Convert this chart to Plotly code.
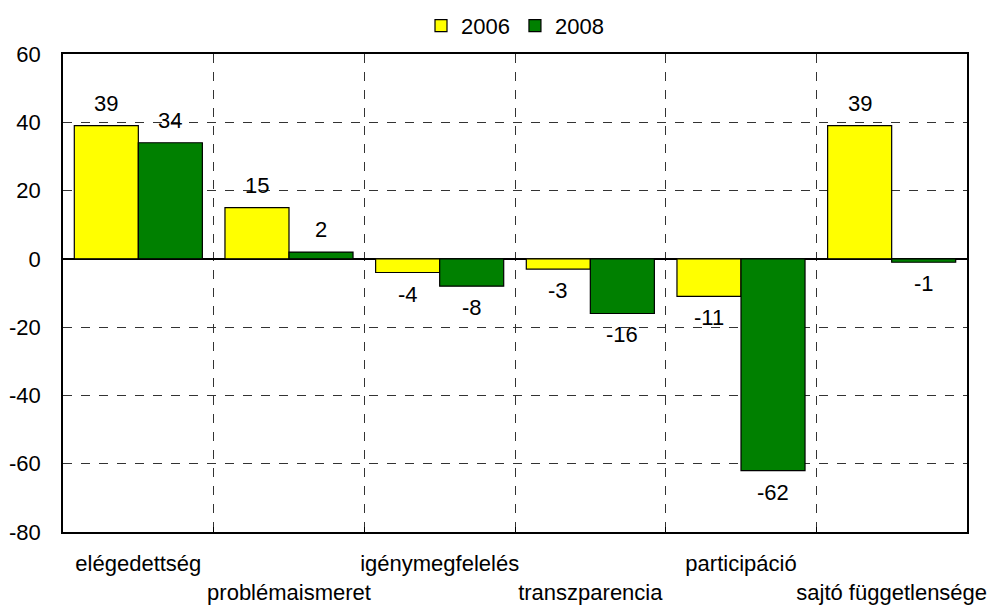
import plotly.graph_objects as go

categories = ["elégedettség", "problémaismeret", "igénymegfelelés",
              "transzparencia", "participáció", "sajtó függetlensége"]
series_names = ["2006", "2008"]
v2006 = [39, 15, -4, -3, -11, 39]
v2008 = [34, 2, -8, -16, -62, -1]
y_ticks = [-80, -60, -40, -20, 0, 20, 40, 60]
y_ticklabels = ["-80", "-60", "-40", "-20", "0", "20", "40", "60"]

FONT = "Liberation Sans, Arial, sans-serif"
colors = ["#FFFF00", "#008000"]

fig = go.Figure()
for name, vals, col in zip(series_names, [v2006, v2008], colors):
    fig.add_trace(go.Bar(
        x=categories, y=vals, name=name,
        marker=dict(color=col, line=dict(color="black", width=1.2)),
    ))

# staggered category labels
ticktext = [c if i % 2 == 0 else "\u00a0<br>" + c for i, c in enumerate(categories)]

# data labels
annotations = []
for vals, shift in zip([v2006, v2008], [-32, 32]):
    for c, v in zip(categories, vals):
        annotations.append(dict(
            x=c, y=v, xref="x", yref="y", text=str(v), showarrow=False,
            xshift=shift, yshift=(8 if v >= 0 else -7),
            yanchor="bottom" if v >= 0 else "top",
            font=dict(family=FONT, size=22, color="black"),
        ))

# page body adds an 8px margin around the figure, so the figure is offset
fig.update_layout(
    width=979, height=600,
    margin=dict(l=55, r=20, t=46, b=76, autoexpand=False),
    paper_bgcolor="white", plot_bgcolor="white",
    barmode="group", bargap=0.15, bargroupgap=0,
    font=dict(family=FONT, size=22, color="black"),
    showlegend=True,
    legend=dict(orientation="h", x=0.5, xanchor="center", y=1.015, yanchor="bottom",
                bgcolor="rgba(0,0,0,0)",
                font=dict(family=FONT, size=22, color="black"),
                itemwidth=30, tracegroupgap=0, traceorder="normal"),
    annotations=annotations,
)
fig.update_xaxes(
    type="category", tickmode="array", tickvals=categories, ticktext=ticktext,
    tickangle=0, automargin=False, ticklabelstandoff=11,
    tickson="boundaries", ticks="inside", ticklen=5, tickcolor="black",
    showgrid=True, gridcolor="#333333", griddash="dash", gridwidth=1,
    showline=True, linecolor="black", linewidth=1.5, mirror=True,
    tickfont=dict(family=FONT, size=22, color="black"),
)
fig.update_yaxes(
    range=[-80, 60], tickmode="array", tickvals=y_ticks, ticktext=y_ticklabels,
    automargin=False,
    showgrid=True, gridcolor="#333333", griddash="dash", gridwidth=1,
    zeroline=True, zerolinecolor="black", zerolinewidth=1.5,
    showline=True, linecolor="black", linewidth=1.5, mirror=True,
    ticks="", ticklabelstandoff=16,
    tickfont=dict(family=FONT, size=22, color="black"),
)

fig.write_html("out.html")
